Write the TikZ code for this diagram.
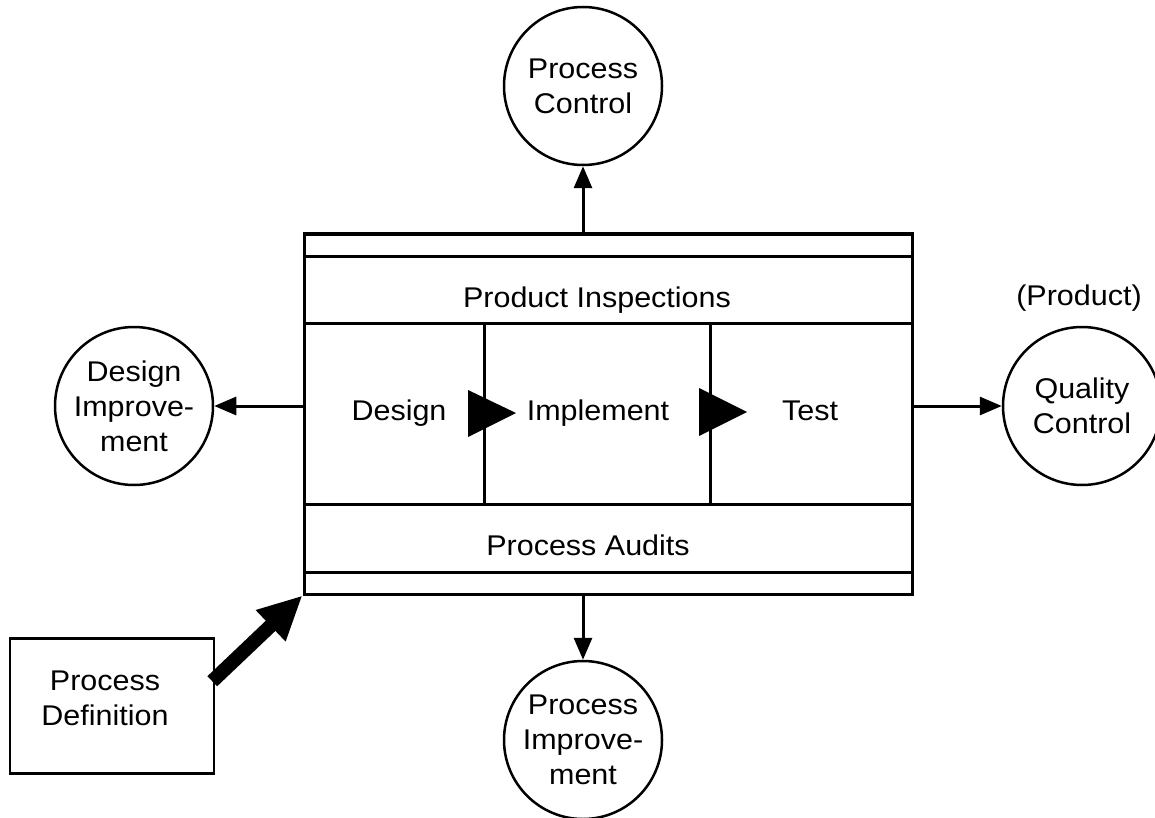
\documentclass[tikz,border=0pt]{standalone}
\usepackage{fontspec}
\setmainfont{Liberation Sans}[FakeStretch=1.07]
\usetikzlibrary{arrows.meta,calc}
\begin{document}
\begin{tikzpicture}[x=1pt,y=-1pt,
  every node/.style={font=\fontsize{28.5}{35}\selectfont, align=center},
  bubble/.style={draw, circle, line width=2.5pt, minimum size=158pt, inner sep=0pt},
  frame/.style={draw, line width=3pt},
  plainbox/.style={draw, line width=2.5pt, inner sep=0pt},
  arr/.style={line width=3pt, -{Triangle[length=22pt,width=18pt]}},
  bigarr/.style={line width=14pt, -{Triangle[length=44pt,width=40pt]}}]
\useasboundingbox (0,0) rectangle (1155,818);

% central block with its bands and phases
\node[frame, minimum width=608pt, minimum height=360pt, inner sep=0pt] (box) at (608,414) {};
\draw[frame] (304,256) -- (912,256);
\draw[frame] (304,323) -- (912,323);
\draw[frame] (304,504) -- (912,504);
\draw[frame] (304,572) -- (912,572);
\draw[frame] (484,323) -- (484,504);
\draw[frame] (710,323) -- (710,504);

\node[anchor=base] (insp) at (597,307) {Product Inspections};
\node[anchor=base] (audit) at (588,555) {Process Audits};
\node[anchor=base] (des) at (399,420) {Design};
\node[anchor=base] (impl) at (598,420) {Implement};
\node[anchor=base] (test) at (810,420) {Test};

% phase flow markers
\fill (468,390) -- (516,413) -- (468,437) -- cycle;
\fill (699,388) -- (747,412) -- (699,436) -- cycle;

% surrounding activities
\node[bubble] (pc) at (583,86) {Process\\Control};
\node[bubble] (di) at (134,406) {Design\\Improve-\\ment};
\node[bubble] (qc) at (1082,406) {Quality\\Control};
\node[bubble] (pim) at (583,740) {Process\\Improve-\\ment};
\node[anchor=base] (prod) at (1079,305) {(Product)};

\node[plainbox, minimum width=204pt, minimum height=135pt] (pd) at (112,706) {};
\node (pdtext) at (105,698) {Process\\Definition};

% connectors
\draw[arr] (box.north -| pc.south) -- (pc.south);
\draw[arr] (box.south -| pim.north) -- (pim.north);
\draw[arr] (box.west |- di.east) -- (di.east);
\draw[arr] (box.east |- qc.west) -- (qc.west);
\draw[bigarr] ([shift={(-3,44)}]pd.north east) -- (box.south west);
\end{tikzpicture}
\end{document}
